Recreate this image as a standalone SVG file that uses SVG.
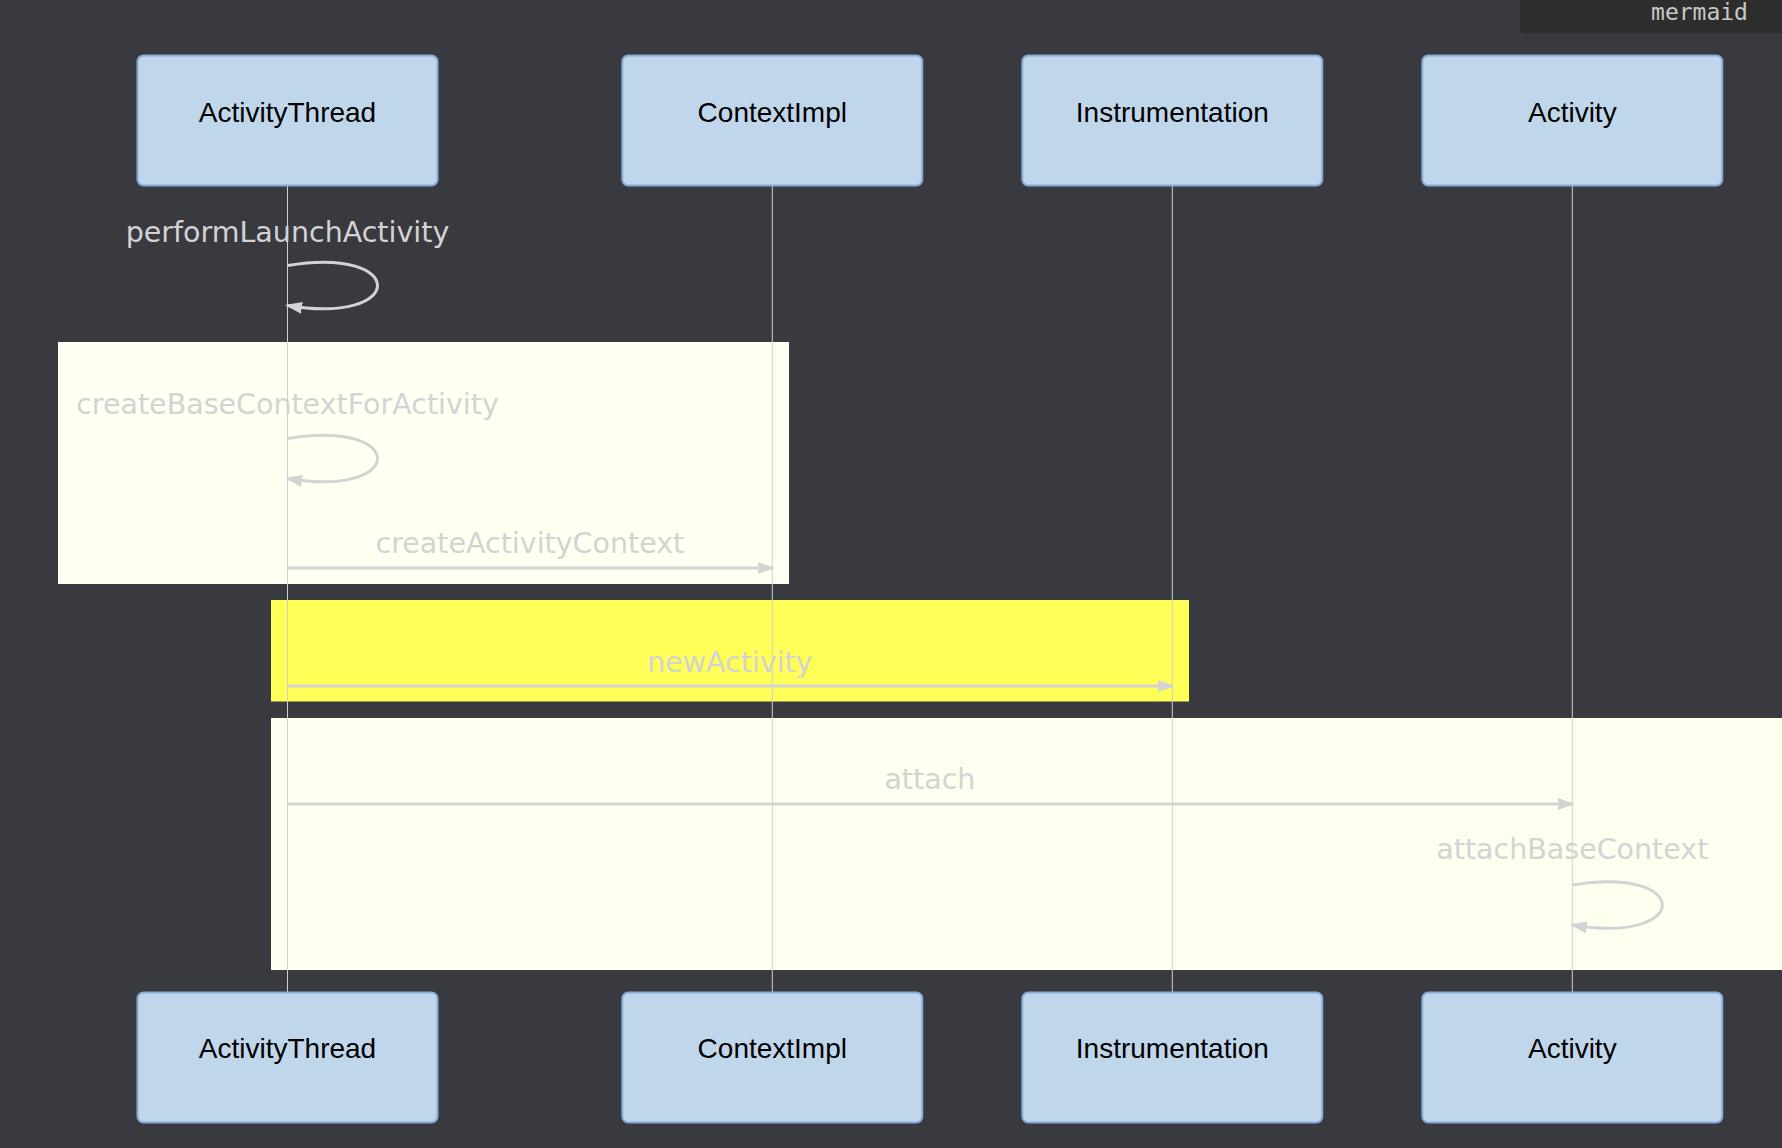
<svg xmlns="http://www.w3.org/2000/svg" width="1782" height="1148" viewBox="0 0 1782 1148">
<defs>
<style>
.actor{fill:#c0d6ea;stroke:#86abd8;stroke-width:2}
.atext{font-family:"Liberation Sans",Arial,sans-serif;font-size:28px;fill:#000;text-anchor:middle}
.life{stroke:#cfcfcf;stroke-width:1;fill:none}
.msg{font-family:"DejaVu Sans",Verdana,sans-serif;font-size:28.5px;fill:#d3d3d3;text-anchor:middle}
.mline{stroke:#d3d3d3;stroke-width:3;fill:none;marker-end:url(#arrow)}
</style>
<marker id="arrow" markerUnits="userSpaceOnUse" markerWidth="18" markerHeight="13" refX="14.5" refY="6" orient="auto" viewBox="0 0 18 12">
<path d="M0,0 L17,6 L0,12 z" fill="#d3d3d3"/>
</marker>
</defs>
<rect x="0" y="0" width="1782" height="1148" fill="#383a40"/>
<g id="mermaid-tag">
<path d="M1520,0 H1782 V33 H1524 Q1520,33 1520,29 Z" fill="#2d2d2d"/>
<text x="1699.5" y="19.5" font-family="'DejaVu Sans Mono','Liberation Mono',monospace" font-size="23" fill="#c8c8c8" text-anchor="middle">mermaid</text>
</g>
<g id="blocks">
<rect id="rect-1" x="58" y="342" width="731" height="242" fill="#fffff2"/>
<rect id="rect-2" x="271" y="600" width="918" height="101.5" fill="#ffff57"/>
<rect id="rect-3" x="271" y="718" width="1520" height="252" fill="#fffff0"/>
</g>
<g id="lifelines">
<line class="life" x1="287.5" y1="186" x2="287.5" y2="992"/>
<line class="life" x1="772.3" y1="186" x2="772.3" y2="992"/>
<line class="life" x1="1172.3" y1="186" x2="1172.3" y2="992"/>
<line class="life" x1="1572.3" y1="186" x2="1572.3" y2="992"/>
</g>
<g id="actor-ActivityThread">
<rect class="actor" x="137.5" y="55.5" width="300" height="130" rx="6"/>
<text class="atext" x="287.5" y="122">ActivityThread</text>
</g>
<g id="actor-ContextImpl">
<rect class="actor" x="622.3" y="55.5" width="300" height="130" rx="6"/>
<text class="atext" x="772.3" y="122">ContextImpl</text>
</g>
<g id="actor-Instrumentation">
<rect class="actor" x="1022.3" y="55.5" width="300" height="130" rx="6"/>
<text class="atext" x="1172.3" y="122">Instrumentation</text>
</g>
<g id="actor-Activity">
<rect class="actor" x="1422.3" y="55.5" width="300" height="130" rx="6"/>
<text class="atext" x="1572.3" y="122">Activity</text>
</g>
<g id="actor-ActivityThread-bottom">
<rect class="actor" x="137.5" y="992.5" width="300" height="130" rx="6"/>
<text class="atext" x="287.5" y="1058">ActivityThread</text>
</g>
<g id="actor-ContextImpl-bottom">
<rect class="actor" x="622.3" y="992.5" width="300" height="130" rx="6"/>
<text class="atext" x="772.3" y="1058">ContextImpl</text>
</g>
<g id="actor-Instrumentation-bottom">
<rect class="actor" x="1022.3" y="992.5" width="300" height="130" rx="6"/>
<text class="atext" x="1172.3" y="1058">Instrumentation</text>
</g>
<g id="actor-Activity-bottom">
<rect class="actor" x="1422.3" y="992.5" width="300" height="130" rx="6"/>
<text class="atext" x="1572.3" y="1058">Activity</text>
</g>
<g id="messages">
<text class="msg" x="287.5" y="242">performLaunchActivity</text>
<path class="mline" d="M287.5,265.5 C407.5,245.5 407.5,325.5 287.5,305.5"/>
<text class="msg" x="287.5" y="413.5">createBaseContextForActivity</text>
<path class="mline" d="M287.5,438.5 C407.5,418.5 407.5,498.5 287.5,478.5"/>
<text class="msg" x="529.9" y="552.7">createActivityContext</text>
<path class="mline" d="M287.5,568 L772.3,568"/>
<text class="msg" x="729.9" y="671.7">newActivity</text>
<path class="mline" d="M287.5,686 L1172.3,686"/>
<text class="msg" x="929.9" y="788.7">attach</text>
<path class="mline" d="M287.5,804 L1572.3,804"/>
<text class="msg" x="1572.3" y="859.3">attachBaseContext</text>
<path class="mline" d="M1572.3,885 C1692.3,865 1692.3,945 1572.3,925"/>
</g>
</svg>
